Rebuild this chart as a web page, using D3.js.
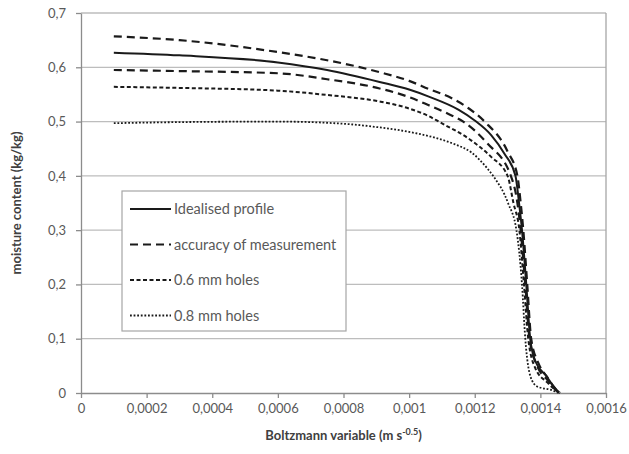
<!DOCTYPE html>
<html>
<head>
<meta charset="utf-8">
<script src="https://cdn.jsdelivr.net/npm/d3@7"></script>
<style>
  body { margin: 0; background: #fff; }
  svg { font-family: Lato, "Open Sans", sans-serif; }
</style>
</head>
<body>
<svg id="chart"></svg>
<script>
var width = 629;
var height = 454;
var margin = { top: 13, right: 23, bottom: 61, left: 81 };

// series: [Boltzmann variable, moisture content]
var idealised = [
  [0.0001, 0.627], [0.0003, 0.622], [0.0006, 0.609], [0.00075, 0.595],
  [0.00091, 0.573], [0.001, 0.559], [0.00106, 0.546], [0.00115, 0.522],
  [0.0012, 0.502], [0.00125, 0.475], [0.00129, 0.441], [0.001324, 0.4],
  [0.001335, 0.35], [0.001344, 0.3], [0.001357, 0.2], [0.001369, 0.1],
  [0.001385, 0.058], [0.00142, 0.03], [0.00144, 0.012], [0.001455, 0.002]
];
var accuracyUpper = [
  [0.0001, 0.657], [0.0003, 0.65], [0.0006, 0.628], [0.00075, 0.613],
  [0.00091, 0.591], [0.001, 0.575], [0.00106, 0.56], [0.00113, 0.543],
  [0.00118, 0.525], [0.00123, 0.5], [0.0013, 0.445], [0.00133, 0.4],
  [0.00134, 0.35], [0.001348, 0.3], [0.00136, 0.2], [0.001372, 0.1],
  [0.001394, 0.055], [0.00142, 0.03], [0.00145, 0.005], [0.00146, 0]
];
var accuracyLower = [
  [0.0001, 0.595], [0.0003, 0.593], [0.0006, 0.589], [0.00075, 0.578],
  [0.00091, 0.561], [0.001, 0.545], [0.00106, 0.53], [0.00112, 0.514],
  [0.001165, 0.5], [0.001238, 0.46], [0.00131, 0.4], [0.00133, 0.35],
  [0.00134, 0.3], [0.001354, 0.2], [0.001367, 0.1], [0.00139, 0.05],
  [0.00142, 0.025], [0.00145, 0.004], [0.00146, 0]
];
var holes06 = [
  [0.0001, 0.564], [0.0003, 0.562], [0.0006, 0.557], [0.00075, 0.549],
  [0.00091, 0.537], [0.001, 0.524], [0.00106, 0.51], [0.00109, 0.5],
  [0.00119, 0.465], [0.00125, 0.435], [0.0013, 0.4], [0.001318, 0.35],
  [0.001336, 0.3], [0.00135, 0.2], [0.001363, 0.1], [0.001385, 0.045],
  [0.00142, 0.02], [0.00145, 0.004], [0.00146, 0]
];
var holes08 = [
  [0.0001, 0.497], [0.0003, 0.499], [0.0006, 0.5], [0.0008, 0.496],
  [0.0009, 0.49], [0.001, 0.481], [0.00108, 0.47], [0.00114, 0.458],
  [0.00119, 0.443], [0.001238, 0.414], [0.001256, 0.4], [0.001302, 0.349],
  [0.001327, 0.3], [0.001344, 0.2], [0.001354, 0.1], [0.00137, 0.03],
  [0.00139, 0.012], [0.001436, 0.005], [0.001455, 0]
];

var xTicks = [0, 0.0002, 0.0004, 0.0006, 0.0008, 0.001, 0.0012, 0.0014, 0.0016];
var xTickLabels = ["0", "0,0002", "0,0004", "0,0006", "0,0008", "0,001", "0,0012", "0,0014", "0,0016"];
var yTicks = [0, 0.1, 0.2, 0.3, 0.4, 0.5, 0.6, 0.7];
var yTickLabels = ["0", "0,1", "0,2", "0,3", "0,4", "0,5", "0,6", "0,7"];

var legendNames = ["Idealised profile", "accuracy of measurement", "0.6 mm holes", "0.8 mm holes"];

var svg = d3.select("#chart").attr("width", width).attr("height", height);

var xScale = d3.scaleLinear()
  .domain([0, 0.0016])
  .range([margin.left, width - margin.right]);
var yScale = d3.scaleLinear()
  .domain([0, 0.7])
  .range([height - margin.bottom, margin.top]);

// horizontal gridlines
svg.append("g")
  .selectAll("line")
  .data(yTicks.slice(1))
  .enter()
  .append("line")
  .attr("x1", xScale(0))
  .attr("x2", xScale(0.0016))
  .attr("y1", (d) => yScale(d))
  .attr("y2", (d) => yScale(d))
  .attr("stroke", "#bdbdbd")
  .attr("stroke-width", 1.3);

// right border
svg.append("line")
  .attr("x1", xScale(0.0016)).attr("x2", xScale(0.0016))
  .attr("y1", yScale(0)).attr("y2", yScale(0.7))
  .attr("stroke", "#a6a6a6")
  .attr("stroke-width", 1.3);

// axes
var xAxis = d3.axisBottom(xScale)
  .tickValues(xTicks)
  .tickSize(5)
  .tickSizeOuter(0)
  .tickPadding(6)
  .tickFormat((d, i) => xTickLabels[i]);
var gx = svg.append("g")
  .attr("transform", `translate(0, ${yScale(0)})`)
  .call(xAxis);

var yAxis = d3.axisLeft(yScale)
  .tickValues(yTicks)
  .tickSize(5)
  .tickSizeOuter(0)
  .tickPadding(10)
  .tickFormat((d, i) => yTickLabels[i]);
var gy = svg.append("g")
  .attr("transform", `translate(${xScale(0)}, 0)`)
  .call(yAxis);

[gx, gy].forEach((g) => {
  g.select(".domain").attr("stroke", "#8c8c8c").attr("stroke-width", 1.3);
  g.selectAll(".tick line").attr("stroke", "#8c8c8c").attr("stroke-width", 1.3);
  g.selectAll(".tick text")
    .attr("fill", "#595959")
    .style("font-size", "13px")
    .style("font-family", "Lato, sans-serif");
});

// lines
var line = d3.line()
  .x((d) => xScale(d[0]))
  .y((d) => yScale(d[1]))
  .curve(d3.curveMonotoneX);

var styles = [
  { data: idealised, dash: null, w: 2 },
  { data: accuracyUpper, dash: "8,5", w: 2.2 },
  { data: accuracyLower, dash: "8,5", w: 2.2 },
  { data: holes06, dash: "4,2.5", w: 2 },
  { data: holes08, dash: "1.8,1.8", w: 1.8 }
];

svg.append("g")
  .selectAll("path")
  .data(styles)
  .enter()
  .append("path")
  .attr("d", (d) => line(d.data))
  .attr("fill", "none")
  .attr("stroke", "#1a1a1a")
  .attr("stroke-width", (d) => d.w)
  .attr("stroke-dasharray", (d) => d.dash);

// legend
var legend = svg.append("g").attr("transform", "translate(122, 191)");
legend.append("rect")
  .attr("width", 224)
  .attr("height", 140)
  .attr("fill", "#fff")
  .attr("stroke", "#a6a6a6")
  .attr("stroke-width", 1.2);

var legendStyles = [styles[0], styles[1], styles[3], styles[4]];
var rows = legend.selectAll(".row")
  .data(legendNames)
  .enter()
  .append("g")
  .attr("class", "row")
  .attr("transform", (d, i) => `translate(0, ${18 + i * 35.5})`);

rows.append("line")
  .attr("x1", 8)
  .attr("x2", 49)
  .attr("stroke", "#1a1a1a")
  .attr("stroke-width", (d, i) => legendStyles[i].w)
  .attr("stroke-dasharray", (d, i) => legendStyles[i].dash);

rows.append("text")
  .attr("x", 52)
  .attr("dy", "0.35em")
  .attr("fill", "#595959")
  .style("font-size", "14.5px")
  .text((d) => d);

// axis titles
var xTitle = svg.append("text")
  .attr("x", (xScale(0) + xScale(0.0016)) / 2)
  .attr("y", 440)
  .attr("text-anchor", "middle")
  .attr("fill", "#404040")
  .style("font-size", "13px")
  .style("font-weight", "bold");
xTitle.append("tspan").text("Boltzmann variable (m s");
xTitle.append("tspan").attr("dy", -5).style("font-size", "9px").text("-0.5");
xTitle.append("tspan").attr("dy", 5).text(")");

svg.append("text")
  .attr("transform", `translate(21, ${yScale(0.35)}) rotate(-90)`)
  .attr("text-anchor", "middle")
  .attr("fill", "#404040")
  .style("font-size", "13px")
  .style("font-weight", "bold")
  .text("moisture content (kg/kg)");
</script>
</body>
</html>
